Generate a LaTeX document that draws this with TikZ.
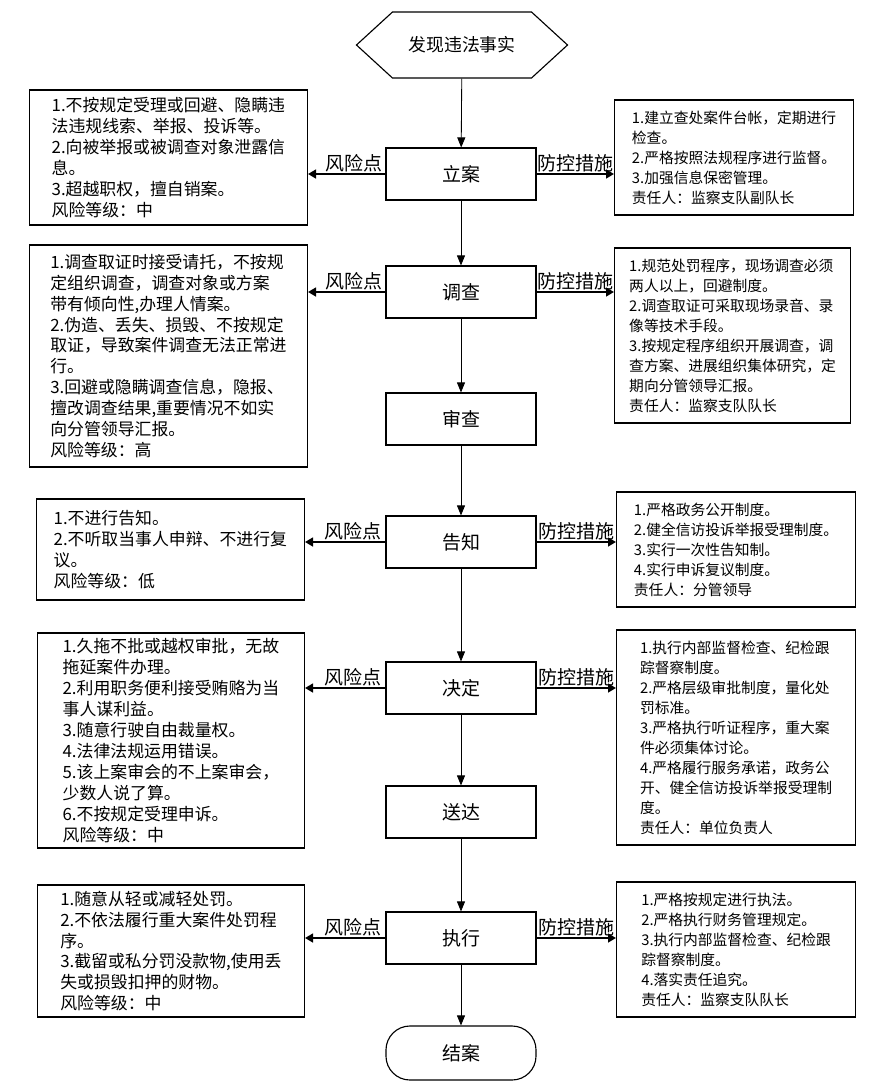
\documentclass[tikz,border=0pt]{standalone}
\usepackage{fontspec}
\setmainfont{Noto Sans CJK SC}
\usetikzlibrary{arrows.meta,shapes.symbols}

\begin{document}
\begin{tikzpicture}[x=0.025cm, y=-0.025cm,
   proc/.style={draw, line width=0.8pt, minimum width=3.75cm, minimum height=1.3cm,
                font=\fontsize{13.5pt}{16pt}\selectfont},
   risk/.style={draw, line width=0.8pt, align=left, anchor=east,
                font=\fontsize{12pt}{14.9pt}\selectfont},
   guard/.style={draw, line width=0.8pt, align=left, anchor=west,
                 font=\fontsize{10.5pt}{14.2pt}\selectfont},
   flow/.style={line width=0.6pt, -{Triangle[length=0.25cm, width=0.2cm]}},
   side/.style={line width=1.4pt, -{Triangle[length=0.2cm, width=0.22cm]}},
   tag/.style={above, inner sep=1pt, font=\fontsize{13.5pt}{16pt}\selectfont}]

  \useasboundingbox (0,0) rectangle (875,1087);

  % ===== main flow =====
  \node[draw, line width=0.8pt, signal, signal to=west and east, signal pointer angle=85,
        minimum width=5.275cm, minimum height=1.65cm, font=\fontsize{12.7pt}{15pt}\selectfont]
        (start) at (462,45) {发现违法事实};
  \node[proc] (lian)   at (461,174)  {立案};
  \node[proc] (dcha)   at (461,292)  {调查};
  \node[proc] (scha)   at (461,419)  {审查};
  \node[proc] (gzhi)   at (461,542)  {告知};
  \node[proc] (jding)  at (461,688)  {决定};
  \node[proc] (sda)    at (461,812)  {送达};
  \node[proc] (zxing)  at (461,938)  {执行};
  \node[draw, line width=0.8pt, rounded corners=0.6cm, minimum width=3.75cm, minimum height=1.35cm,
        font=\fontsize{13.5pt}{16pt}\selectfont] (jan) at (461,1053) {结案};

  \draw[flow] (start) -- (lian);
  \draw[flow] (lian) -- (dcha);
  \draw[flow] (dcha) -- (scha);
  \draw[flow] (scha) -- (gzhi);
  \draw[flow] (gzhi) -- (jding);
  \draw[flow] (jding) -- (sda);
  \draw[flow] (sda) -- (zxing);
  \draw[flow] (zxing) -- (jan);

  % ===== risk points (left) =====
  \node[risk, minimum width=6.95cm, minimum height=3.375cm] (risk1) at (308,157.5)
    {1.不按规定受理或回避、隐瞒违\\法违规线索、举报、投诉等。\\2.向被举报或被调查对象泄露信\\息。\\3.超越职权，擅自销案。\\风险等级：中};
  \node[risk, minimum width=6.95cm, minimum height=5.55cm] (risk2) at (308,356)
    {1.调查取证时接受请托，不按规\\定组织调查，调查对象或方案\\带有倾向性,办理人情案。\\2.伪造、丢失、损毁、不按规定\\取证，导致案件调查无法正常进\\行。\\3.回避或隐瞒调查信息，隐报、\\擅改调查结果,重要情况不如实\\向分管领导汇报。\\风险等级：高};
  \node[risk, minimum width=6.7cm, minimum height=2.525cm] (risk3) at (305,549.5)
    {1.不进行告知。\\2.不听取当事人申辩、不进行复\\议。\\风险等级：低};
  \node[risk, minimum width=6.675cm, minimum height=5.375cm] (risk4) at (305,740.5)
    {1.久拖不批或越权审批，无故\\拖延案件办理。\\2.利用职务便利接受贿赂为当\\事人谋利益。\\3.随意行驶自由裁量权。\\4.法律法规运用错误。\\5.该上案审会的不上案审会，\\少数人说了算。\\6.不按规定受理申诉。\\风险等级：中};
  \node[risk, minimum width=6.675cm, minimum height=3.3cm] (risk5) at (305,951)
    {1.随意从轻或减轻处罚。\\2.不依法履行重大案件处罚程\\序。\\3.截留或私分罚没款物,使用丢\\失或损毁扣押的财物。\\风险等级：中};

  % ===== control measures (right) =====
  \node[guard, minimum width=5.975cm, minimum height=2.875cm] (guard1) at (614,157.5)
    {1.建立查处案件台帐，定期进行\\检查。\\2.严格按照法规程序进行监督。\\3.加强信息保密管理。\\责任人：监察支队副队长};
  \node[guard, minimum width=5.9cm, minimum height=4.375cm] (guard2) at (614,335.5)
    {1.规范处罚程序，现场调查必须\\两人以上，回避制度。\\2.调查取证可采取现场录音、录\\像等技术手段。\\3.按规定程序组织开展调查，调\\查方案、进展组织集体研究，定\\期向分管领导汇报。\\责任人：监察支队队长};
  \node[guard, minimum width=5.975cm, minimum height=2.875cm] (guard3) at (616,549.5)
    {1.严格政务公开制度。\\2.健全信访投诉举报受理制度。\\3.实行一次性告知制。\\4.实行申诉复议制度。\\责任人：分管领导};
  \node[guard, minimum width=5.975cm, minimum height=5.375cm] (guard4) at (616,737.5)
    {1.执行内部监督检查、纪检跟\\踪督察制度。\\2.严格层级审批制度，量化处\\罚标准。\\3.严格执行听证程序，重大案\\件必须集体讨论。\\4.严格履行服务承诺，政务公\\开、健全信访投诉举报受理制\\度。\\责任人：单位负责人};
  \node[guard, minimum width=5.975cm, minimum height=3.375cm] (guard5) at (616,949.5)
    {1.严格按规定进行执法。\\2.严格执行财务管理规定。\\3.执行内部监督检查、纪检跟\\踪督察制度。\\4.落实责任追究。\\责任人：监察支队队长};

  % ===== side arrows =====
  \foreach \s/\n in {lian/1, dcha/2, gzhi/3, jding/4, zxing/5} {
    \draw[side] (\s.west) -- node[tag, pos=0.4] {风险点} (\s.west -| risk\n.east);
    \draw[side] (\s.east) -- node[tag] {防控措施} (\s.east -| guard\n.west);
  }

\end{tikzpicture}
\end{document}
